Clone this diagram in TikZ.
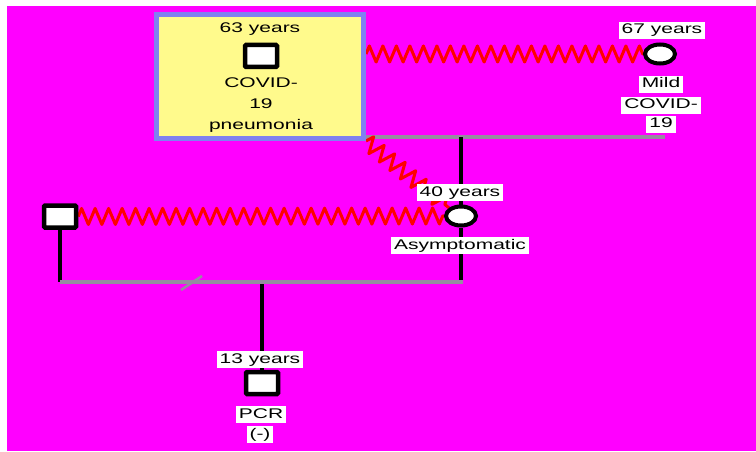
\documentclass[tikz,border=0pt]{standalone}
\usepackage{fontspec}
\setmainfont{Liberation Sans}
\usetikzlibrary{shapes.geometric,decorations.pathmorphing}
\pgfdeclarelayer{bg}
\pgfdeclarelayer{lines}
\pgfsetlayers{bg,lines,main}
\definecolor{bgmag}{RGB}{255,0,255}
\definecolor{boxyel}{RGB}{255,250,140}
\definecolor{boxblue}{RGB}{128,128,240}
\definecolor{lgray}{RGB}{150,140,160}
\definecolor{zred}{RGB}{255,0,0}
\begin{document}
\begin{tikzpicture}[x=1pt,y=-1pt,
  txt/.style={font=\fontsize{14}{16}\selectfont, xscale=1.5, inner sep=0pt, anchor=base},
  lbl/.style={txt, fill=white, inner xsep=2pt, inner ysep=1.5pt, text height=10.5pt, text depth=3.5pt},
  male/.style={draw=black, line width=4.5pt, fill=white, rounded corners=1pt, minimum width=32pt, minimum height=22pt, inner sep=0pt},
  female/.style={ellipse, draw=black, line width=4pt, fill=white, minimum width=30pt, minimum height=19pt, inner sep=0pt},
  grayline/.style={draw=lgray, line width=3.5pt},
  blackline/.style={draw=black, line width=4pt},
  zz/.style={draw=zred, line width=3pt, line join=round, decorate, decoration={zigzag, segment length=13.5pt, amplitude=8pt}}
]
\useasboundingbox (0,0) rectangle (756,452);
\begin{pgfonlayer}{bg}
\fill[white] (0,0) rectangle (756,452);
\fill[bgmag] (7,6) rectangle (756,451);
\end{pgfonlayer}

% coordinates
\coordinate (g1e) at (665,137);
\coordinate (m1) at (461,137);
\coordinate (g2L) at (60,282);
\coordinate (g2R) at (463,282);
\coordinate (g2C) at (262,282);
\coordinate (s1) at (181,290);
\coordinate (s2) at (202,276);

% shapes
\node[draw=boxblue, line width=5pt, fill=boxyel, minimum width=207pt, minimum height=124pt, inner sep=0pt] (box) at (260,76.5) {};
\node[male] (sq63) at (261,56) {};
\node[female] (c67) at (660,54) {};
\node[female] (c40) at (461,216) {};
\node[male] (sqL) at (60,216.5) {};
\node[male] (sq13) at (262,383) {};

% connectors behind shapes
\begin{pgfonlayer}{lines}
\path[grayline] (box.east |- g1e) -- (g1e);
\path[blackline] (m1) -- (c40);
\path[blackline] (c40) -- (c40 |- g2R);
\path[blackline] (sqL) -- (g2L);
\path[blackline] (g2C) -- (sq13);
\path[grayline] (g2L) -- (g2R);
\path[draw=lgray, line width=2.5pt] (s1) -- (s2);
\path[zz] (box.east |- c67) -- (c67.west);
\path[zz] (sqL.east) -- (c40.west);
\path[zz] (box.south east) -- (c40.north west);
\end{pgfonlayer}

% texts in box
\node[txt] (t63) at (260,33) {63 years};
\node[txt] (tcov) at (261,88) {COVID-};
\node[txt] (t19) at (261,109) {19};
\node[txt] (tpn) at (261,130) {pneumonia};

% labels
\node[lbl] (l67) at (662,34) {67 years};
\node[lbl] (lmild) at (661,88) {Mild};
\node[lbl] (lcov) at (661,109) {COVID-};
\node[lbl] (l19) at (661,128) {19};
\node[lbl] (l40) at (460,196) {40 years};
\node[lbl] (lasy) at (460,249) {Asymptomatic};
\node[lbl] (l13) at (260,363) {13 years};
\node[lbl] (lpcr) at (261,418) {PCR};
\node[lbl] (lneg) at (260,438) {(-)};
\end{tikzpicture}
\end{document}
